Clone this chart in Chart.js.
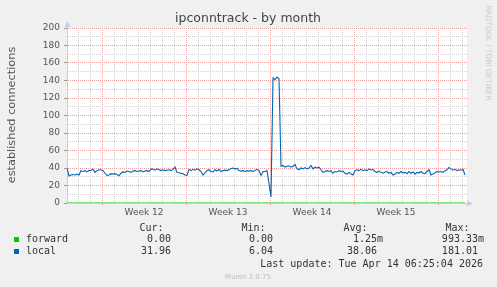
<!DOCTYPE html>
<html>
<head>
<meta charset="utf-8">
<title>ipconntrack - by month</title>
<script src="https://cdn.jsdelivr.net/npm/chart.js@4/dist/chart.umd.min.js"></script>
<style>
  html, body { margin: 0; padding: 0; background: #f0f0f0; }
  canvas { display: block; }
</style>
</head>
<body>
<canvas id="c" width="497" height="287"></canvas>
<script>
// ── data (x in hours since start of the graph window) ──
var STEP_H = 4;
var X_MAX_H = 800;
var weekStartsH = [70, 238, 406, 574, 742];
var weekLabels  = ["Week 12", "Week 13", "Week 14", "Week 15"];
var yTicksStep = 10;
var yMax = 200;

var forwardHours = [0, 796];
var forward      = [0, 0];

var local = [
  40, 31, 32, 32.5, 32, 33, 32, 37, 36, 37,
  35.5, 37, 37.5, 38.5, 35, 37, 38, 38, 37, 34,
  31.5, 32, 33.5, 33, 33.5, 32.5, 31, 34, 35.5, 35,
  36.5, 36, 35, 36.5, 37, 36, 36.5, 37, 35.5, 36.5,
  37, 36, 39, 38.5, 37.5, 39, 38, 37, 38, 37,
  37.5, 38, 37, 38.5, 41, 35, 34.5, 34, 33.5, 32,
  31.5, 38.5, 37, 38.5, 37.5, 39, 38, 36, 32, 34.5,
  37, 38, 36, 35.5, 38, 36.5, 38.5, 36, 37, 37.5,
  37, 38, 39.5, 40, 39, 39.5, 37, 36.5, 37, 36,
  37, 36.5, 37, 36, 37, 38.5, 37, 31.5, 36, 36,
  37, 22, 7, 143, 141, 144, 142, 42, 43, 41,
  42, 42.5, 41, 42, 44, 39, 38, 40, 39, 40.5,
  39, 40, 43, 39, 41, 40, 41, 38, 35, 36,
  37, 36, 37, 34, 36, 35.5, 37, 36, 36.5, 34,
  33, 35, 33, 32, 37, 38, 37, 38.5, 37, 38,
  37, 39, 37.5, 38.5, 36, 35, 36.5, 35, 34, 35.5,
  36, 34, 35, 32, 33, 35, 34, 36, 34.5, 35,
  33.5, 36, 34, 35.5, 33, 35, 34.5, 36, 34, 33.5,
  36, 38, 32, 33, 34.5, 36, 35.5, 36, 35, 37,
  38, 40.5, 39, 37.5, 38.5, 37, 38, 37.5, 38.5, 32
];

var legendRows = [
  { name: "forward", color: "#00cc00", cur: "0.00 ",  min: "0.00 ", avg: "1.25m",  max: "993.33m" },
  { name: "local",   color: "#0066b3", cur: "31.96 ", min: "6.04 ", avg: "38.06 ", max: "181.01 " }
];

// ── colours ──
var MAJOR = "#eba3a3";
var MINOR = "#d2d2d2";
var AXIS  = "#c8c8f4";

function isWeekStart(v) { return weekStartsH.indexOf(v) >= 0; }
function weekMid(i) { return weekStartsH[i] + 84; }

var munin = {
  id: "munin",
  beforeDraw: function(chart) {
    var ctx = chart.ctx, a = chart.chartArea;
    ctx.save();
    ctx.fillStyle = "#f0f0f0";
    ctx.fillRect(0, 0, chart.width, chart.height);
    ctx.fillStyle = "#ffffff";
    ctx.fillRect(a.left, a.top, a.right - a.left, a.bottom - a.top);
    ctx.restore();
  },
  afterDraw: function(chart) {
    var ctx = chart.ctx, a = chart.chartArea;
    ctx.save();

    // title
    ctx.fillStyle = "#444";
    ctx.font = "12.5px 'DejaVu Sans'";
    ctx.textAlign = "center";
    ctx.textBaseline = "middle";
    ctx.fillText("ipconntrack - by month", 248, 19);

    // y axis title
    ctx.save();
    ctx.translate(12, 115);
    ctx.rotate(-Math.PI / 2);
    ctx.fillStyle = "#555";
    ctx.font = "11.3px 'DejaVu Sans'";
    ctx.fillText("established connections", 0, 0);
    ctx.restore();

    // rrdtool credit
    ctx.save();
    ctx.translate(488, 53);
    ctx.rotate(Math.PI / 2);
    ctx.fillStyle = "#c8c8c8";
    ctx.font = "7.4px 'DejaVu Sans'";
    ctx.fillText("RRDTOOL / TOBI OETIKER", 0, 0);
    ctx.restore();

    // axis arrows
    ctx.fillStyle = AXIS;
    ctx.beginPath();
    ctx.moveTo(a.left + 0.5, a.top - 7);
    ctx.lineTo(a.left - 2.5, a.top - 1);
    ctx.lineTo(a.left + 3.5, a.top - 1);
    ctx.closePath();
    ctx.fill();
    ctx.fillRect(a.left, a.top - 2, 1, 2);
    ctx.beginPath();
    ctx.moveTo(a.right + 6, a.bottom + 0.5);
    ctx.lineTo(a.right, a.bottom - 2.5);
    ctx.lineTo(a.right, a.bottom + 3.5);
    ctx.closePath();
    ctx.fill();

    // legend
    ctx.font = "10px 'DejaVu Sans Mono'";
    ctx.fillStyle = "#333";
    ctx.textBaseline = "middle";
    ctx.textAlign = "left";
    ctx.fillText("Cur:", 139.5, 228.5);
    ctx.fillText("Min:", 241.5, 228.5);
    ctx.fillText("Avg:", 343.5, 228.5);
    ctx.fillText("Max:", 445.5, 228.5);
    legendRows.forEach(function(r, i) {
      var y = 239.5 + i * 12;
      ctx.fillStyle = r.color;
      ctx.fillRect(14, y - 2.5, 5, 5);
      ctx.fillStyle = "#333";
      ctx.textAlign = "left";
      ctx.fillText(r.name, 26, y);
      ctx.textAlign = "right";
      ctx.fillText(r.cur, 177, y);
      ctx.fillText(r.min, 279, y);
      ctx.fillText(r.avg, 383, y);
      ctx.fillText(r.max, 484, y);
    });
    ctx.textAlign = "right";
    ctx.fillText("Last update: Tue Apr 14 06:25:04 2026", 483, 264);

    ctx.textAlign = "center";
    ctx.fillStyle = "#bbb";
    ctx.font = "7px 'DejaVu Sans'";
    ctx.fillText("Munin 2.0.75", 248, 277);
    ctx.restore();
  }
};

Chart.defaults.font.family = "'DejaVu Sans'";

var chart = new Chart(document.getElementById("c"), {
  type: "line",
  data: {
    datasets: [
      {
        label: "forward",
        data: forward.map(function(v, i) { return { x: forwardHours[i], y: v }; }),
        borderColor: "#00cc00",
        borderWidth: 1,
        pointRadius: 0,
        fill: false
      },
      {
        label: "local",
        data: local.map(function(v, i) { return { x: i * STEP_H, y: v }; }),
        borderColor: "#0066b3",
        borderWidth: 1.1,
        pointRadius: 0,
        tension: 0,
        fill: false
      }
    ]
  },
  options: {
    responsive: false,
    animation: false,
    devicePixelRatio: 1,
    layout: { padding: { top: 28, right: 30, left: 0, bottom: 0 } },
    plugins: { legend: { display: false }, tooltip: { enabled: false } },
    scales: {
      x: {
        type: "linear",
        min: 0,
        max: X_MAX_H,
        afterFit: function(s) { s.height = 84; },
        afterBuildTicks: function(s) {
          var t = [];
          for (var h = weekStartsH[0] % 24; h < X_MAX_H; h += 24) t.push({ value: h });
          weekLabels.forEach(function(l, i) { t.push({ value: weekMid(i) }); });
          t.sort(function(p, q) { return p.value - q.value; });
          s.ticks = t;
        },
        ticks: {
          autoSkip: false,
          maxRotation: 0,
          padding: 2,
          color: "#555",
          font: { size: 9 },
          callback: function(v) {
            for (var i = 0; i < weekLabels.length; i++) if (weekMid(i) === v) return weekLabels[i];
            return "";
          }
        },
        grid: {
          drawTicks: true,
          tickLength: 2,
          borderDash: [1, 1],
          color: function(c) {
            var v = c.tick ? c.tick.value : null;
            if (v === null) return "transparent";
            if (isWeekStart(v)) return MAJOR;
            for (var i = 0; i < weekLabels.length; i++) if (weekMid(i) === v) return "transparent";
            return MINOR;
          },
          tickColor: function(c) {
            var v = c.tick ? c.tick.value : null;
            return (v !== null && isWeekStart(v)) ? MAJOR : "transparent";
          }
        },
        border: { display: true, color: AXIS, dash: [1, 1] }
      },
      y: {
        min: 0,
        max: yMax,
        afterFit: function(s) { s.width = 67; },
        ticks: {
          stepSize: yTicksStep,
          autoSkip: false,
          padding: 4,
          color: "#555",
          font: { size: 9 },
          callback: function(v) { return v % 20 === 0 ? v : ""; }
        },
        grid: {
          drawTicks: true,
          tickLength: 3,
          borderDash: [1, 1],
          color: function(c) {
            var v = c.tick ? c.tick.value : 0;
            return v % 20 === 0 ? MAJOR : MINOR;
          },
          tickColor: function(c) {
            var v = c.tick ? c.tick.value : 0;
            return v % 20 === 0 ? "#999" : "transparent";
          }
        },
        border: { display: true, color: AXIS, dash: [1, 1] }
      }
    }
  },
  plugins: [munin]
});
</script>
</body>
</html>
